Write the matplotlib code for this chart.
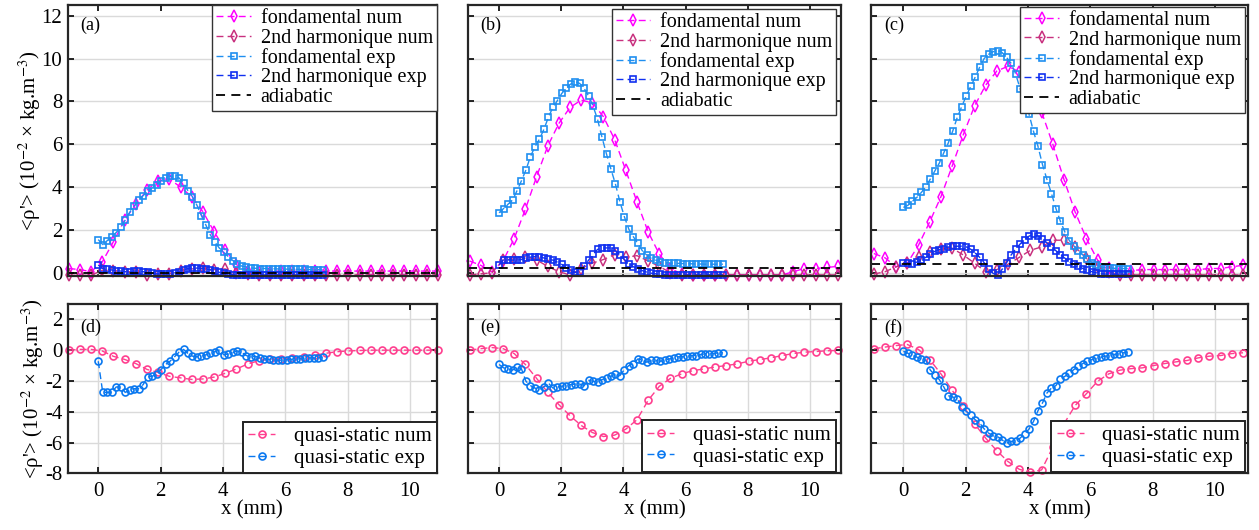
import numpy as np
import matplotlib.pyplot as plt

plt.rcParams['font.family'] = ['Liberation Serif', 'DejaVu Serif']
plt.rcParams['mathtext.fontset'] = 'stix'
plt.rcParams['axes.unicode_minus'] = False

# grilles en x (mm)
x_num = np.round(np.linspace(-0.95, 10.9, 34), 3)
x_exp = np.round(np.linspace(0.0, 7.2, 51), 3)

# ---- panneaux du haut : harmoniques ----
fond_num_a = [0.2, 0.15, 0.05, 0.5, 1.45, 2.46, 3.2, 3.86, 4.3, 4.38, 4.0, 3.55, 2.85, 1.92, 1.06, 0.38, 0.1,
              0.06, 0.06, 0.07, 0.07, 0.08, 0.08, 0.08, 0.08, 0.08, 0.08, 0.08, 0.08, 0.08, 0.08, 0.08, 0.08, 0.08]
harm_num_a = [-0.12, -0.12, -0.12, 0.12, 0.1, 0.06, 0.04, -0.1, -0.05, -0.05, 0.1, 0.18, 0.22, 0.15, 0.18, 0.0, -0.05,
              -0.1, -0.1, -0.1, -0.1, -0.1, -0.1, -0.1, -0.1, -0.1, -0.1, -0.1, -0.1, -0.1, -0.1, -0.1, -0.1, -0.1]
fond_exp_a = [1.55, 1.32, 1.5, 1.68, 1.88, 2.12, 2.45, 2.82, 3.12, 3.38,
              3.6, 3.8, 3.95, 4.12, 4.3, 4.43, 4.5, 4.52, 4.43, 4.2,
              3.82, 3.55, 3.15, 2.67, 2.22, 1.76, 1.43, 1.15, 0.95, 0.75,
              0.57, 0.42, 0.31, 0.27, 0.23, 0.21, 0.2, 0.2, 0.19, 0.19,
              0.18, 0.18, 0.17, 0.17, 0.16, 0.16, 0.16, 0.15, 0.15, 0.15, 0.15]
harm_exp_a = [0.36, 0.2, 0.16, 0.13, 0.1, 0.08, 0.05, 0.06, 0.08, 0.08,
              0.05, 0.02, -0.02, -0.05, -0.06, -0.06, -0.04, 0.0, 0.06, 0.14,
              0.2, 0.22, 0.22, 0.2, 0.18, 0.14, 0.08, 0.02, -0.03, -0.07,
              -0.09, -0.1, -0.1, -0.1, -0.1, -0.1, -0.1, -0.1, -0.1, -0.1,
              -0.1, -0.1, -0.1, -0.1, -0.1, -0.1, -0.1, -0.1, -0.1, -0.1, -0.1]

fond_num_b = [0.55, 0.35, 0.05, 0.55, 1.6, 2.96, 4.48, 5.91, 6.97, 7.72, 8.06, 7.94, 7.28, 6.22, 4.78, 3.31, 1.91,
              0.87, 0.2, -0.05, -0.1, -0.1, -0.1, -0.1, -0.1, -0.1, -0.1, -0.1, -0.1, 0.05, 0.2, 0.2, 0.25, 0.3]
harm_num_b = [-0.1, -0.05, 0.0, 0.6, 0.65, 0.75, 0.6, 0.3, 0.05, -0.1, 0.2, 0.45, 0.62, 0.85, 0.72, 0.8, 0.55,
              0.3, 0.0, -0.1, -0.1, -0.1, -0.1, -0.1, -0.1, -0.1, -0.1, -0.1, -0.1, -0.1, -0.1, -0.1, -0.1, -0.1]
fond_exp_b = [2.8, 3.0, 3.2, 3.39, 3.83, 4.3, 4.8, 5.42, 5.88, 6.23,
              6.69, 7.25, 7.72, 8.03, 8.37, 8.61, 8.81, 8.92, 8.84, 8.61,
              8.25, 7.78, 7.16, 6.32, 5.54, 4.83, 4.14, 3.31, 2.61, 2.03,
              1.68, 1.37, 1.03, 0.83, 0.67, 0.59, 0.51, 0.48, 0.46, 0.45,
              0.44, 0.43, 0.42, 0.42, 0.41, 0.41, 0.4, 0.4, 0.4, 0.4, 0.4]
harm_exp_b = [0.36, 0.62, 0.6, 0.59, 0.59, 0.62, 0.69, 0.73, 0.76, 0.76,
              0.69, 0.65, 0.59, 0.5, 0.39, 0.24, 0.13, 0.02, 0.05, 0.31,
              0.59, 0.86, 1.09, 1.16, 1.16, 1.16, 1.02, 0.84, 0.62, 0.42,
              0.28, 0.17, 0.1, 0.03, -0.02, -0.05, -0.07, -0.08, -0.1, -0.1,
              -0.1, -0.1, -0.1, -0.1, -0.1, -0.1, -0.1, -0.1, -0.1, -0.1, -0.1]

fond_num_c = [0.9, 0.7, 0.28, 0.45, 1.29, 2.38, 3.55, 4.98, 6.45, 7.78, 8.76, 9.42, 9.64, 9.38, 8.65, 7.51, 6.0,
              4.35, 2.83, 1.6, 0.59, 0.23, 0.05, 0.1, 0.15, 0.15, 0.15, 0.15, 0.15, 0.15, 0.2, 0.2, 0.28, 0.35]
harm_num_c = [-0.06, 0.05, 0.28, 0.45, 0.72, 0.95, 1.1, 1.15, 0.83, 0.45, 0.05, 0.15, 0.4, 0.72, 1.05, 1.21, 1.52,
              1.52, 1.21, 0.67, 0.28, 0.05, -0.1, -0.1, -0.1, -0.1, -0.1, -0.1, -0.1, -0.1, -0.1, -0.1, -0.1, -0.1]
fond_exp_c = [3.05, 3.15, 3.33, 3.52, 3.75, 4.0, 4.38, 4.75, 5.12, 5.6,
              6.06, 6.62, 7.25, 7.76, 8.25, 8.7, 9.13, 9.6, 10.0, 10.2,
              10.32, 10.37, 10.28, 10.05, 9.78, 9.3, 8.6, 8.05, 7.4, 6.6,
              5.9, 5.05, 4.35, 3.7, 3.0, 2.4, 1.9, 1.5, 1.25, 1.02,
              0.84, 0.65, 0.48, 0.35, 0.28, 0.24, 0.22, 0.21, 0.2, 0.2, 0.2]
harm_exp_c = [0.47, 0.44, 0.42, 0.5, 0.6, 0.72, 0.88, 1.0, 1.08, 1.13,
              1.2, 1.23, 1.24, 1.24, 1.21, 1.1, 0.92, 0.72, 0.47, 0.2,
              -0.03, -0.1, 0.16, 0.47, 0.83, 1.1, 1.34, 1.55, 1.71, 1.8,
              1.72, 1.57, 1.4, 1.22, 1.03, 0.83, 0.68, 0.5, 0.4, 0.3,
              0.2, 0.12, 0.05, 0.0, -0.04, -0.06, -0.07, -0.07, -0.07, -0.07, -0.06]

adiabatic = [0.0, 0.22, 0.42]

# ---- panneaux du bas : quasi-statique ----
qs_num_d = [0.0, 0.05, 0.05, -0.05, -0.4, -0.6, -0.87, -1.25, -1.45, -1.7, -1.8, -1.9, -1.87, -1.75, -1.5, -1.22, -0.9,
            -0.68, -0.6, -0.55, -0.5, -0.42, -0.32, -0.2, -0.1, -0.05, -0.02, 0.0, 0.0, 0.0, 0.0, 0.0, 0.0, 0.0]
qs_exp_d = [-0.72, -2.74, -2.74, -2.74, -2.39, -2.39, -2.74, -2.6, -2.5, -2.5,
            -2.24, -1.74, -1.7, -1.52, -1.26, -0.93, -0.72, -0.43, -0.13, 0.05,
            -0.21, -0.39, -0.43, -0.39, -0.3, -0.2, -0.1, 0.0, -0.3, -0.25,
            -0.15, -0.05, -0.15, -0.35, -0.45, -0.4, -0.5, -0.55, -0.6, -0.65,
            -0.65, -0.65, -0.62, -0.6, -0.6, -0.55, -0.5, -0.5, -0.5, -0.5, -0.45]
qs_num_e = [0.0, 0.1, 0.17, 0.1, -0.22, -0.93, -1.83, -2.74, -3.54, -4.26, -4.89, -5.35, -5.61, -5.52, -5.13, -4.52,
            -3.26, -2.35, -1.83, -1.54, -1.33, -1.22, -1.09, -1.0, -0.89, -0.72, -0.61, -0.5, -0.35, -0.22, -0.13,
            -0.09, -0.04, -0.02]
qs_exp_e = [-0.93, -1.15, -1.22, -1.3, -1.09, -1.22, -2.02, -2.3, -2.46, -2.57,
            -2.39, -2.13, -2.46, -2.39, -2.35, -2.3, -2.24, -2.2, -2.2, -2.3,
            -1.96, -2.02, -2.09, -1.91, -1.8, -1.7, -1.54, -1.65, -1.26, -1.0,
            -0.89, -0.57, -0.65, -0.78, -0.67, -0.67, -0.72, -0.67, -0.57, -0.5,
            -0.43, -0.43, -0.39, -0.35, -0.35, -0.28, -0.24, -0.22, -0.22, -0.17, -0.17]
qs_num_f = [0.09, 0.2, 0.3, 0.37, 0.04, -0.61, -1.54, -2.61, -3.61, -4.78, -5.72, -6.54, -7.24, -7.74, -7.93, -7.78,
            -6.3, -4.78, -3.59, -2.83, -2.02, -1.54, -1.3, -1.2, -1.15, -1.0, -0.87, -0.76, -0.67, -0.5, -0.39,
            -0.35, -0.22, -0.17]
qs_exp_f = [-0.07, -0.2, -0.33, -0.45, -0.58, -0.65, -1.3, -1.6, -1.91, -2.39,
            -2.96, -3.04, -3.17, -3.7, -3.98, -4.2, -4.52, -4.74, -5.11, -5.39,
            -5.57, -5.61, -5.83, -6.04, -5.93, -5.89, -5.72, -5.43, -5.13, -4.63,
            -3.93, -3.43, -2.78, -2.46, -2.3, -1.87, -1.7, -1.48, -1.26, -1.04,
            -0.87, -0.72, -0.61, -0.54, -0.46, -0.39, -0.35, -0.28, -0.22, -0.17, -0.12]

top_data = [(fond_num_a, harm_num_a, fond_exp_a, harm_exp_a),
            (fond_num_b, harm_num_b, fond_exp_b, harm_exp_b),
            (fond_num_c, harm_num_c, fond_exp_c, harm_exp_c)]
bot_data = [(qs_num_d, qs_exp_d), (qs_num_e, qs_exp_e), (qs_num_f, qs_exp_f)]

c_fn = '#ff00ff'
c_hn = '#c8307f'
c_fe = '#1f8ff0'
c_he = '#1030f0'
c_qn = '#ff3f8f'
c_qe = '#0a78f0'

ylab = "<ρ'> (10$^{-2}$ × kg.m$^{-3}$)"
W, H = 1259, 530
fs = 15

fig = plt.figure(figsize=(W / 100, H / 100), dpi=100)

# positions en pixels (gauche, droite) et limites x
cols = [(67.7, 437.0, (-0.98, 10.87)),
        (468.0, 841.0, (-1.0, 11.0)),
        (871.0, 1248.0, (-1.04, 11.06))]
top_leg = [(1.0, 1.0), (0.987, 0.985), (0.992, 0.993)]
bot_leg = [(1.0, 0.0), (0.987, 0.008), (0.993, 0.006)]
dash = (0, (5, 3))


def style_axes(ax, xlim):
    ax.set_xlim(*xlim)
    ax.set_xticks([0, 2, 4, 6, 8, 10])
    ax.tick_params(direction='in', top=True, right=True, length=4, width=1.2,
                   labelsize=fs, pad=4)
    ax.tick_params(axis='x', pad=6)
    for s in ax.spines.values():
        s.set_linewidth(1.6)
        s.set_color('#262626')
    ax.set_axisbelow(True)


for j, (x0, x1, xlim) in enumerate(cols):
    # haut
    ax = fig.add_axes([x0 / W, (H - 276) / H, (x1 - x0) / W, 271 / H])
    fn, hn, fe, he = top_data[j]
    ax.plot(x_num, fn, ls=dash, lw=1.0, color=c_fn, marker='d', ms=5.8, mfc='none', mew=1.1,
            clip_on=False, label='fondamental num')
    ax.plot(x_num, hn, ls=dash, lw=1.0, color=c_hn, marker='d', ms=5.8, mfc='none', mew=1.1,
            clip_on=False, label='2nd harmonique num')
    ax.plot(x_exp, fe, ls=dash, lw=1.0, color=c_fe, marker='s', ms=4.4, mfc='none', mew=1.2,
            clip_on=False, label='fondamental exp')
    ax.plot(x_exp, he, ls=dash, lw=1.0, color=c_he, marker='s', ms=4.4, mfc='none', mew=1.2,
            clip_on=False, label='2nd harmonique exp')
    ax.axhline(adiabatic[j], color='k', ls=(0, (5, 3.5)), lw=1.3, label='adiabatic')
    ax.set_ylim(-0.15, 12.5)
    ax.set_yticks([0, 2, 4, 6, 8, 10, 12])
    ax.yaxis.grid(True, color='#dadada', lw=1.0)
    style_axes(ax, xlim)
    ax.tick_params(labelbottom=False)
    if j == 0:
        ax.set_ylabel(ylab, fontsize=fs, labelpad=-1)
    else:
        ax.tick_params(labelleft=False)
    ax.text(0.034, 0.925, '(' + 'abc'[j] + ')', transform=ax.transAxes, fontsize=13, va='center')
    leg = ax.legend(loc='upper right', bbox_to_anchor=top_leg[j], borderaxespad=0, fontsize=14.5,
                    handlelength=1.7, handletextpad=0.5, labelspacing=0.02, borderpad=0.2,
                    fancybox=False, framealpha=1, edgecolor='#333333')
    leg.get_frame().set_linewidth(1.0)

    # bas
    ax = fig.add_axes([x0 / W, (H - 473.3) / H, (x1 - x0) / W, 169.3 / H])
    qn, qe = bot_data[j]
    ax.plot(x_num, qn, ls=dash, lw=1.0, color=c_qn, marker='o', ms=5, mfc='none', mew=1.2,
            clip_on=False, label='quasi-static num')
    ax.plot(x_exp, qe, ls=dash, lw=1.0, color=c_qe, marker='o', ms=5, mfc='none', mew=1.2,
            clip_on=False, label='quasi-static exp')
    ax.set_ylim(-8, 3)
    ax.set_yticks([-8, -6, -4, -2, 0, 2])
    ax.grid(True, color='#dadada', lw=1.0)
    style_axes(ax, xlim)
    ax.set_xlabel('x (mm)', fontsize=fs, labelpad=0)
    if j == 0:
        ax.set_ylabel(ylab, fontsize=fs, labelpad=-1)
    else:
        ax.tick_params(labelleft=False)
    ax.text(0.034, 0.86, '(' + 'def'[j] + ')', transform=ax.transAxes, fontsize=13, va='center')
    leg = ax.legend(loc='lower right', bbox_to_anchor=bot_leg[j], borderaxespad=0, fontsize=fs,
                    handlelength=1.3, handletextpad=0.9, labelspacing=0.1, borderpad=0.25,
                    fancybox=False, framealpha=1, edgecolor='#222222')
    leg.get_frame().set_linewidth(1.4)

fig.savefig('out.png', dpi=100)
